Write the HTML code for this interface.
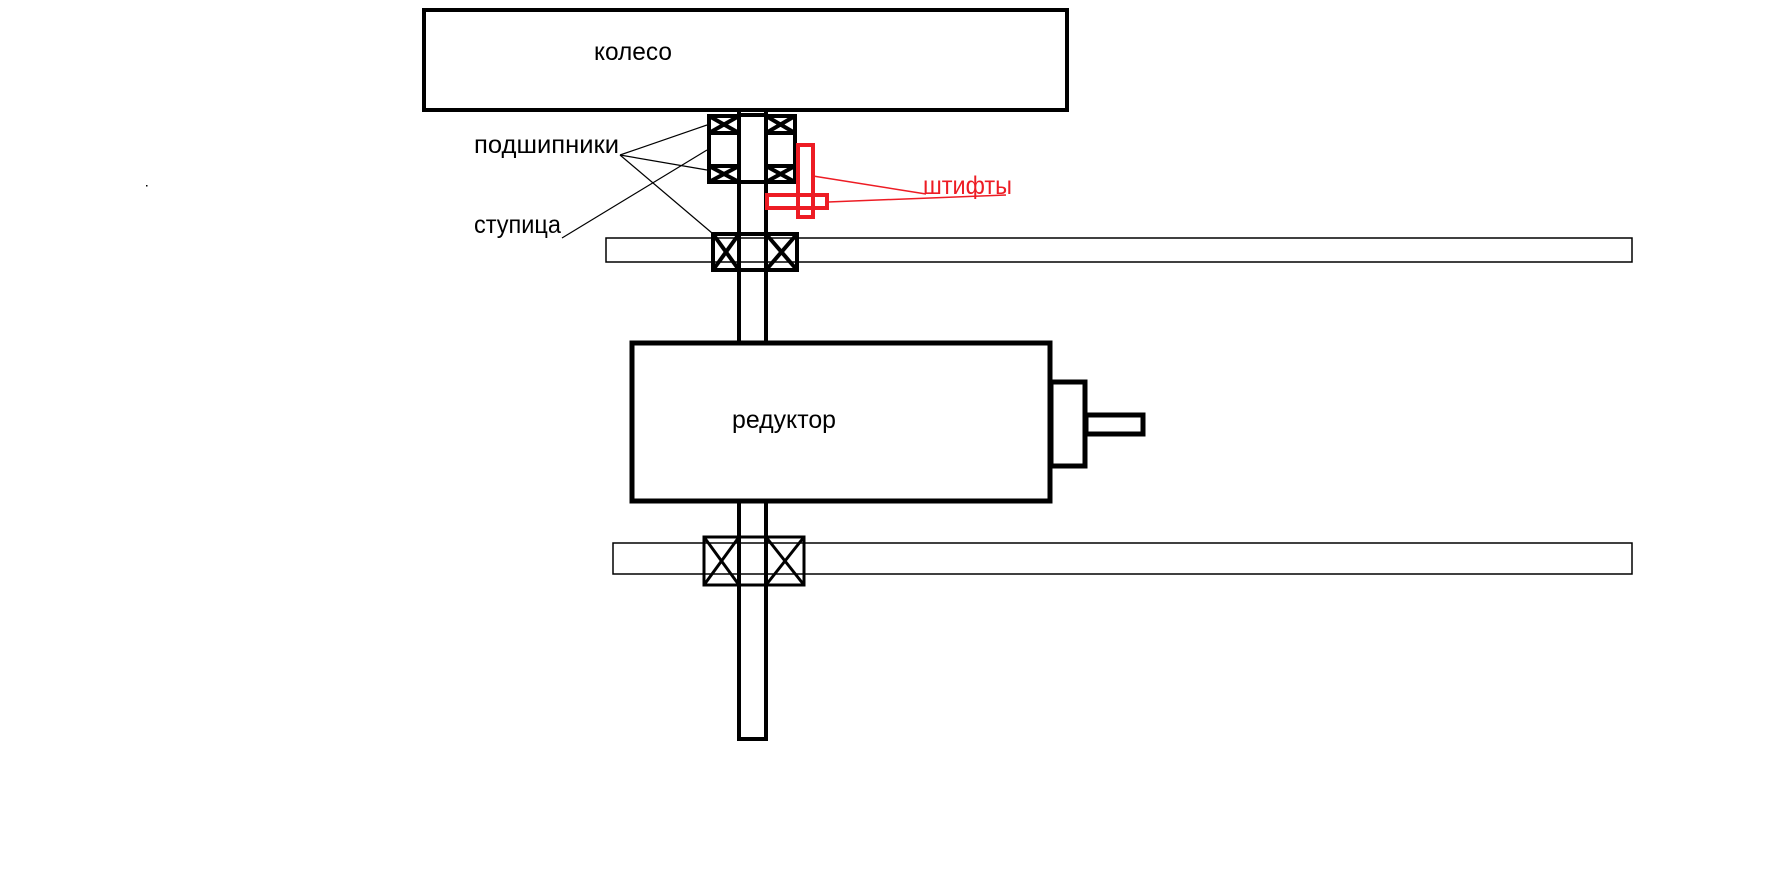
<!DOCTYPE html>
<html><head><meta charset="utf-8"><style>
html,body{margin:0;padding:0;background:#fff;}
svg{display:block;}
text{font-family:"Liberation Sans","Noto Sans CJK SC",sans-serif;font-size:25px;}
</style></head><body>
<svg width="1791" height="883" viewBox="0 0 1791 883" xmlns="http://www.w3.org/2000/svg">
<rect x="0" y="0" width="1791" height="883" fill="#fff"/>
<!-- wheel -->
<rect x="424" y="10" width="643" height="100" fill="none" stroke="#000" stroke-width="4"/>
<text x="594" y="60" textLength="78" lengthAdjust="spacingAndGlyphs">колесо</text>
<!-- thin bars -->
<rect x="606" y="238" width="1026" height="24" fill="none" stroke="#000" stroke-width="1.5"/>
<rect x="613" y="543" width="1019" height="31" fill="none" stroke="#000" stroke-width="1.5"/>
<!-- shaft -->
<g stroke="#000" stroke-width="4" fill="none">
<line x1="739" y1="112" x2="739" y2="343"/>
<line x1="766" y1="112" x2="766" y2="343"/>
<line x1="739" y1="500" x2="739" y2="739"/>
<line x1="766" y1="500" x2="766" y2="739"/>
<line x1="737" y1="739" x2="768" y2="739"/>
<line x1="739" y1="115" x2="766" y2="115"/>
</g>
<!-- upper bearings -->
<g stroke="#000" stroke-width="4" fill="none">
<rect x="709" y="116" width="30" height="66"/>
<rect x="766" y="116" width="29" height="66"/>
<line x1="709" y1="133" x2="739" y2="133"/>
<line x1="709" y1="166" x2="739" y2="166"/>
<line x1="766" y1="133" x2="795" y2="133"/>
<line x1="766" y1="166" x2="795" y2="166"/>
<line x1="739" y1="182" x2="766" y2="182"/>
<line x1="709" y1="116" x2="739" y2="133"/><line x1="739" y1="116" x2="709" y2="133"/>
<line x1="709" y1="166" x2="739" y2="182"/><line x1="739" y1="166" x2="709" y2="182"/>
<line x1="766" y1="116" x2="795" y2="133"/><line x1="795" y1="116" x2="766" y2="133"/>
<line x1="766" y1="166" x2="795" y2="182"/><line x1="795" y1="166" x2="766" y2="182"/>
</g>
<!-- middle bearing -->
<g stroke="#000" stroke-width="4" fill="none">
<rect x="713" y="234" width="84" height="36"/>
<line x1="713" y1="234" x2="739" y2="270"/><line x1="739" y1="234" x2="713" y2="270"/>
<line x1="766" y1="234" x2="797" y2="270"/><line x1="797" y1="234" x2="766" y2="270"/>
</g>
<!-- reducer -->
<rect x="632" y="343" width="418" height="158" fill="#fff" stroke="#000" stroke-width="5"/>
<text x="732" y="428" textLength="104" lengthAdjust="spacingAndGlyphs">редуктор</text>
<rect x="1051" y="382" width="34" height="84" fill="none" stroke="#000" stroke-width="5"/>
<rect x="1086" y="415" width="57" height="19" fill="none" stroke="#000" stroke-width="5"/>
<!-- lower bearing -->
<g stroke="#000" stroke-width="3" fill="none">
<rect x="704" y="537" width="100" height="48"/>
<line x1="704" y1="537" x2="739" y2="585"/><line x1="739" y1="537" x2="704" y2="585"/>
<line x1="766" y1="537" x2="804" y2="585"/><line x1="804" y1="537" x2="766" y2="585"/>
</g>
<!-- red pins -->
<g stroke="#ed1c24" fill="none">
<rect x="798" y="145" width="15" height="72" stroke-width="4"/>
<rect x="767" y="195" width="60" height="13" stroke-width="4"/>
<line x1="813" y1="176" x2="926" y2="194" stroke-width="1.5"/>
<line x1="828" y1="202" x2="1006" y2="195" stroke-width="1.5"/>
</g>
<text x="923" y="194" fill="#ed1c24" textLength="89" lengthAdjust="spacingAndGlyphs">штифты</text>
<!-- labels -->
<text x="474" y="153" textLength="145" lengthAdjust="spacingAndGlyphs">подшипники</text>
<text x="474" y="233" textLength="87" lengthAdjust="spacingAndGlyphs">ступица</text>
<g stroke="#000" stroke-width="1.2">
<line x1="620" y1="155" x2="707" y2="125"/>
<line x1="620" y1="155" x2="707" y2="170"/>
<line x1="620" y1="155" x2="712" y2="233"/>
<line x1="562" y1="238" x2="707" y2="150"/>
</g>
<rect x="146" y="185" width="1.5" height="1.5" fill="#000"/>
</svg>
</body></html>
